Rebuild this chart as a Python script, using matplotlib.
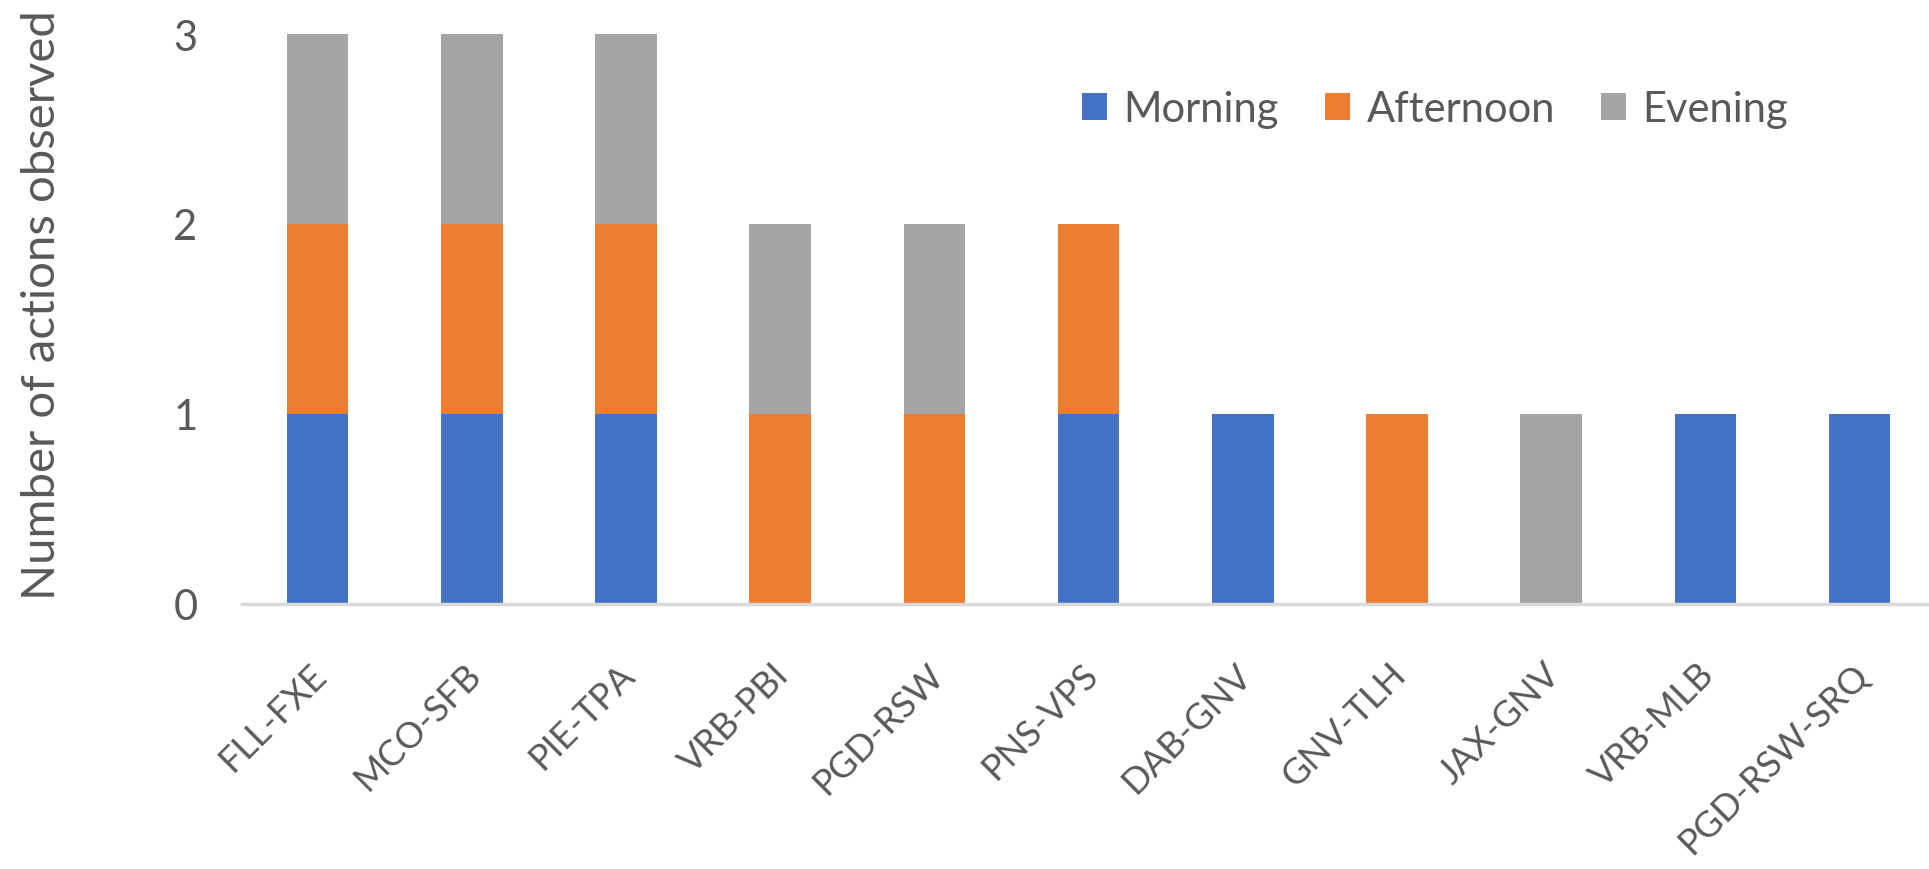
import matplotlib
matplotlib.use("Agg")
import matplotlib.pyplot as plt
import matplotlib.transforms as mtransforms
import numpy as np

routes = ["FLL-FXE", "MCO-SFB", "PIE-TPA", "VRB-PBI", "PGD-RSW", "PNS-VPS",
          "DAB-GNV", "GNV-TLH", "JAX-GNV", "VRB-MLB", "PGD-RSW-SRQ"]
morning = [1, 1, 1, 0, 0, 1, 1, 0, 0, 1, 1]
afternoon = [1, 1, 1, 1, 1, 1, 0, 1, 0, 0, 0]
evening = [1, 1, 1, 1, 1, 0, 0, 0, 1, 0, 0]
series_names = ["Morning", "Afternoon", "Evening"]
yticks = [0, 1, 2, 3]

colors = ["#4472C4", "#ED7D31", "#A5A5A5"]
text_color = "#595959"

plt.rcParams["font.family"] = ["Lato", "DejaVu Sans"]

W, H = 1929, 870
fig = plt.figure(figsize=(W / 100, H / 100), dpi=100)
ax = fig.add_axes([242 / W, 1 - 605 / H, 1 - 242 / W, (605 - 35) / H])

x = np.arange(len(routes))
bottom = np.zeros(len(routes))
for name, vals, c in zip(series_names, [morning, afternoon, evening], colors):
    ax.bar(x, vals, width=0.4, bottom=bottom, color=c, label=name, zorder=2)
    bottom += np.array(vals)

ax.set_ylim(0, 3)
ax.set_xlim(-0.49, 10.45)
ax.set_yticks(yticks)
ax.set_yticklabels([str(v) for v in yticks], fontsize=30, color=text_color)
ax.tick_params(axis="y", length=0, pad=32)
ax.tick_params(axis="x", length=0, pad=38)
ax.set_xticks(x)
ax.set_xticklabels(routes, rotation=45, ha="right", va="top",
                   rotation_mode="anchor", fontsize=26, color=text_color)
shift = mtransforms.ScaledTranslation(-8 / 100, 0, fig.dpi_scale_trans)
for lbl in ax.get_xticklabels():
    lbl.set_transform(lbl.get_transform() + shift)

for side in ["top", "right", "left"]:
    ax.spines[side].set_visible(False)
ax.spines["bottom"].set_color("#D9D9D9")
ax.spines["bottom"].set_linewidth(2.5)
ax.spines["bottom"].set_zorder(3)

fig.text(55 / W, 1 - 305 / H, "Number of actions observed", rotation=90,
         ha="center", va="baseline", rotation_mode="anchor",
         fontsize=34, color=text_color)

ax.legend(loc="center", bbox_to_anchor=((1435 - 242) / (W - 242), (605 - 110) / 570),
          ncol=3, frameon=False, fontsize=30, labelcolor=text_color,
          handlelength=0.6, handleheight=0.6, handletextpad=0.4, columnspacing=1.1)

fig.savefig("out.png", dpi=100, facecolor="white")
